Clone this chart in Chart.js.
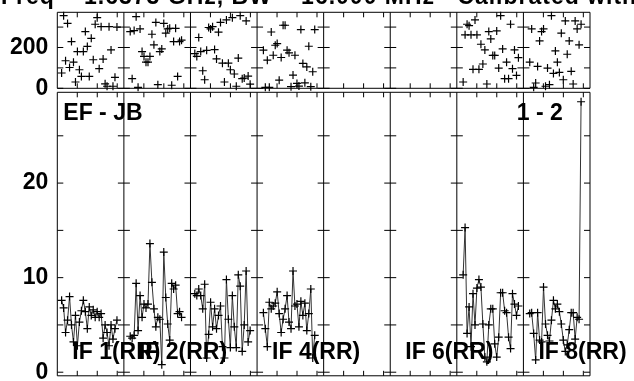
<!DOCTYPE html>
<html lang="en">
<head>
<meta charset="UTF-8">
<title>EF - JB  1 - 2</title>
<script src="https://cdn.jsdelivr.net/npm/chart.js"></script>
<style>
  body { margin:0; background:#fff; }
  #wrap { position:relative; width:634px; height:381px; overflow:hidden; }
  #wrap canvas { position:absolute; left:0; top:0; }
</style>
</head>
<body>
<div id="wrap">
  <canvas id="phaseChart" width="634" height="381"></canvas>
  <canvas id="ampChart" width="634" height="381"></canvas>
</div>
<script>
// sample times, as a fraction of one IF panel (same times in every IF)
const times = [0.065, 0.095, 0.124, 0.154, 0.184, 0.213, 0.243, 0.273, 0.302, 0.332,
               0.362, 0.391, 0.421, 0.451, 0.480, 0.510, 0.540, 0.569, 0.599, 0.629,
               0.658, 0.688, 0.718, 0.747, 0.777, 0.807, 0.836, 0.866, 0.896, 0.925];
const timeTicks = [0.3, 0.6, 0.9];

const ifLabels = ['IF 1(RR)', 'IF 2(RR)', '', 'IF 4(RR)', '', 'IF 6(RR)', '', 'IF 8(RR)'];

// amplitude per IF (null = flagged)
const ampIF1 = [7.6, 6.8, 4.2, 5.5, 8.0, 5.0, 3.2, 6.0, 2.8, 5.3, 6.5, 7.6, 6.4, 4.6, 6.9,
                6.0, 6.6, 5.8, 6.4, 5.8, 6.2, 3.6, 5.0, 4.2, 2.8, 5.0, 3.5, 4.6, 5.5, null];
const ampIF2 = [null, 3.8, 3.6, 3.9, 9.4, 4.4, 8.1, 5.8, 7.2, 6.8, 7.2, 13.6, 9.5, 6.7, 4.8,
                5.8, 5.6, 0.8, 12.7, 7.9, 5.1, 3.4, 9.4, 8.8, 9.2, 6.2, 6.4, 5.8, null, null];
const ampIF3 = [8.3, 8.1, 8.8, 8.1, 6.7, 9.3, 1.5, 4.0, 7.4, 4.8, 6.7, 4.6, 6.0, 7.0, 2.7,
                1.5, 9.8, 5.6, 2.6, 8.1, 4.8, 2.6, 10.3, 9.1, 2.2, 5.0, 10.7, 3.2, 4.4, null];
const ampIF4 = [null, 6.3, 4.6, 2.7, 7.4, 6.7, 7.0, 7.3, 8.5, 6.2, 4.2, 5.6, 6.7, 8.1, 5.3,
                4.6, 10.7, 7.0, 7.2, 4.8, 7.5, 6.0, 7.3, 4.4, 6.2, 8.8, 1.5, 3.9, null, null];
const ampIF7 = [null, 10.3, 15.3, 4.1, 6.9, 2.7, 8.3, 5.0, 8.9, 9.8, 9.0, 5.1, 1.6, 1.1, 5.0,
                6.7, 6.7, 3.0, 1.6, 3.7, 8.4, 8.4, 6.5, 6.3, 3.7, 2.5, 8.3, 7.2, 6.0, 7.0];
const ampIF8 = [null, 6.2, 6.3, 4.1, 1.3, 6.3, 3.4, 3.2, 9.0, 5.1, 3.9, 3.3, 5.5, 7.6, 6.7,
                7.2, 6.4, 5.1, 3.4, 2.2, 2.9, 4.5, 6.3, 6.3, 3.5, 5.8, 5.6, 28.6, null, null];

// phase per IF (degrees)
const phaseIF1 = [75, 356, 135, 318, 102, 229, 128, 31, 180, 91, 58, 180, 278, 205, 58,
                  245, 140, 314, 346, 96, 302, 143, 22, 10, 302, 188, 10, 54, 300, null];
const phaseIF2 = [null, 278, 47, 283, 351, 5, 291, 180, 156, 128, 128, 156, 265, 213, 323,
                  18, 180, 193, 318, 270, 291, 294, 15, 229, 294, 58, 229, 236, null, null];
const phaseIF3 = [170, 156, 249, 180, 86, 42, 186, 298, 291, 302, 190, 144, 275, 323, 123,
                  31, 335, 123, 91, 346, 70, 10, 148, 356, 47, 50, 330, 60, 20, null];
const phaseIF4 = [null, 187, 5, 138, 5, 276, 162, 211, 219, 40, 151, 309, 309, 187, 174,
                  8, 65, 162, 24, 11, 288, 122, 27, 105, 206, 8, 81, 288, null, null];
const phaseIF7 = [null, 31, 262, 314, 307, 262, 93, 335, 262, 93, 216, 119, 188, 21, 278,
                  242, 161, 161, 281, 99, 356, 193, 47, 128, 47, 314, 96, 188, 63, 150];
const phaseIF8 = [null, 128, 291, 5, 26, 107, 232, 278, 291, 10, 99, 18, 356, 73, 183,
                  128, 78, 270, 42, 330, 167, 232, 83, 21, 330, 291, 213, 314, null, null];

const ampByIF   = [ampIF1, ampIF2, ampIF3, ampIF4, null, null, ampIF7, ampIF8];
const phaseByIF = [phaseIF1, phaseIF2, phaseIF3, phaseIF4, null, null, phaseIF7, phaseIF8];

const ampTicks = [0, 5, 10, 15, 20, 25];
const ampLabels = [0, 10, 20];
const phaseTicks = [0, 100, 200, 300];
const phaseLabels = [0, 200];

const titleText = 'Freq = 1.6373 GHz, BW = 16.000 MHz   Calibrated with CL 1';
const baselineText = 'EF - JB';
const sourceText = '1 - 2';

const FONT = 'bold 23px "Liberation Sans", Arial, sans-serif';

// turn one IF array into {x,y} points, panel i spans x = i .. i+1
const toPoints = (panel, vals) => vals
    .map((v, k) => v == null ? null : {x: panel + times[k], y: v})
    .filter(p => p);

// frame, panel dividers and tick marks (AIPS style)
const framePlugin = {
    id: 'frame',
    beforeDatasetsDraw(chart, args, o) {
        const {ctx, chartArea: a, scales: {x, y}} = chart;
        ctx.save();
        ctx.strokeStyle = '#000';
        ctx.lineWidth = 1;
        ctx.beginPath();
        ctx.rect(a.left, a.top, a.right - a.left, a.bottom - a.top);
        for (let i = 1; i < 8; i++) {
            const px = x.getPixelForValue(i);
            ctx.moveTo(px, a.top);
            ctx.lineTo(px, a.bottom);
        }
        o.yTicks.forEach(v => {
            const py = y.getPixelForValue(v);
            for (let i = 0; i <= 8; i++) {
                const px = x.getPixelForValue(i);
                ctx.moveTo(Math.max(a.left, px - 6), py);
                ctx.lineTo(Math.min(a.right, px + 6), py);
            }
        });
        for (let i = 0; i < 8; i++) {
            timeTicks.forEach(t => {
                const px = x.getPixelForValue(i + t);
                ctx.moveTo(px, a.top);
                ctx.lineTo(px, a.top + 5);
                ctx.moveTo(px, a.bottom);
                ctx.lineTo(px, a.bottom - 5);
            });
        }
        ctx.stroke();
        ctx.restore();
    },
    afterDatasetsDraw(chart, args, o) {
        const {ctx, chartArea: a, scales: {x}} = chart;
        ctx.save();
        ctx.fillStyle = '#000';
        ctx.textBaseline = 'alphabetic';
        ctx.font = FONT;
        if (o.title) {
            ctx.letterSpacing = '1px';
            ctx.fillText(titleText, 1, 3.5);
        }
        if (o.labels) {
            ctx.fillText(baselineText, a.left + 6, 119.5);
            ctx.fillText(sourceText, 516.7, 119.5);
            ifLabels.forEach((lab, i) => {
                if (lab) ctx.fillText(lab, x.getPixelForValue(i) + 15, 358.5);
            });
        }
        ctx.restore();
    }
};

const yAxis = (min, max, labels) => ({
    min: min, max: max,
    afterFit: s => {
        s.width = 57.3;
        // keep the tick labels from pushing the plot area around
        s.paddingTop = 0;
        s.paddingBottom = 0;
    },
    afterBuildTicks: s => { s.ticks = labels.map(v => ({value: v})); },
    grid: {display: false, drawTicks: false},
    border: {display: false},
    ticks: {
        color: '#000',
        padding: 9,
        font: {family: '"Liberation Sans", Arial, sans-serif', size: 23, weight: 'bold'}
    }
});

const xAxis = {type: 'linear', min: 0, max: 8, display: false};

const phaseSets = [];
const ampSets = [];
for (let i = 0; i < 8; i++) {
    if (!ampByIF[i]) continue;
    phaseSets.push({
        data: toPoints(i, phaseByIF[i]),
        showLine: false,
        pointStyle: 'cross', pointRadius: 4, pointBorderWidth: 1.2,
        pointBorderColor: '#000', pointBackgroundColor: '#000',
        clip: 6
    });
    ampSets.push({
        data: toPoints(i, ampByIF[i]),
        borderColor: '#333', borderWidth: 1,
        pointStyle: 'cross', pointRadius: 4, pointBorderWidth: 1.2,
        pointBorderColor: '#000', pointBackgroundColor: '#000',
        tension: 0,
        clip: 6
    });
}

const common = {
    responsive: false,
    animation: false,
    devicePixelRatio: 1,
    plugins: {legend: {display: false}, tooltip: {enabled: false}}
};

new Chart(document.getElementById('phaseChart').getContext('2d'), {
    type: 'scatter',
    data: {datasets: phaseSets},
    options: {
        ...common,
        layout: {padding: {left: 0, right: 44, top: 12.3, bottom: 292.7}},
        scales: {x: xAxis, y: yAxis(0, 372.5, phaseLabels)},
        plugins: {...common.plugins, frame: {yTicks: phaseTicks, title: true}}
    },
    plugins: [framePlugin]
});

new Chart(document.getElementById('ampChart').getContext('2d'), {
    type: 'line',
    data: {datasets: ampSets},
    options: {
        ...common,
        layout: {padding: {left: 0, right: 44, top: 92.3, bottom: 1.7}},
        scales: {x: xAxis, y: yAxis(-0.38, 29.6, ampLabels)},
        plugins: {...common.plugins, frame: {yTicks: ampTicks, labels: true}}
    },
    plugins: [framePlugin]
});
</script>
</body>
</html>
